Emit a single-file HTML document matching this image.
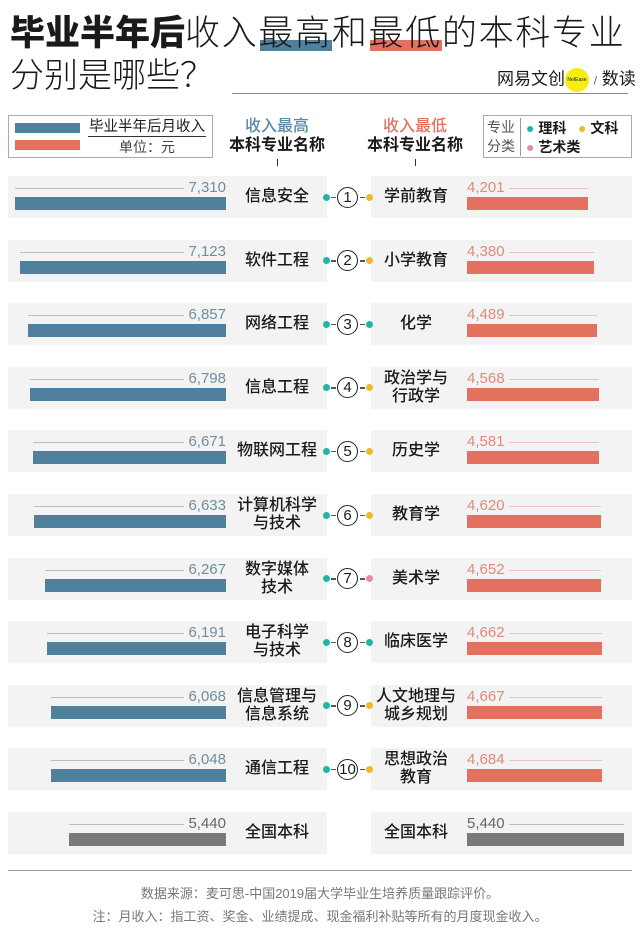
<!DOCTYPE html>
<html><head><meta charset="utf-8">
<style>
*{margin:0;padding:0;box-sizing:border-box}
body{width:640px;height:938px;background:#fff;position:relative;overflow:hidden;font-family:"Liberation Sans","Noto Sans CJK SC",sans-serif;color:#1a1a1a}
.abs{position:absolute}
.t1{left:10px;top:12px;white-space:nowrap;line-height:44px}
.t1 b{font-size:35px;font-weight:900}
.t1 span{font-size:35px;font-weight:300;letter-spacing:1.7px}
.hl{position:absolute;z-index:-1}
.row{position:absolute;height:42px;background:#f3f3f3}
.val{position:absolute;font-size:15px;font-weight:300;line-height:15px}
.lbl{position:absolute;font-size:16px;font-weight:500;line-height:18px;text-align:center;width:90px}
.dot{position:absolute;width:7px;height:7px;border-radius:50%}
.dash{position:absolute;width:5px;height:1.5px;background:#555}
.circ{position:absolute;width:21px;height:21px;border:1.3px solid #222;border-radius:50%;font-size:15px;line-height:19px;text-align:center;background:#fff}
.foot{position:absolute;left:0;width:640px;text-align:center;font-size:13px;color:#777}
</style></head><body>
<div class="abs t1"><b>毕业半年后</b><span>收入最高和最低的本科专业</span></div>
<div class="hl" style="left:260px;top:40px;width:72px;height:11px;background:#4f819c"></div>
<div class="hl" style="left:370px;top:40px;width:72px;height:11px;background:#e4715f"></div>
<div class="abs" style="left:10px;top:56px;font-size:34px;font-weight:300;line-height:40px">分别是哪些？</div>
<div class="abs" style="left:232px;top:93px;width:396px;height:1px;background:#888"></div>
<div class="abs" style="left:497px;top:68px;font-size:17px;line-height:20px;white-space:nowrap">网易文创<span style="display:inline-block;width:24px;height:24px;border-radius:50%;background:#f5ee10;font-size:5px;line-height:24px;text-align:center;vertical-align:middle">NetEase</span> <span style="font-size:12px;color:#666">/</span> 数读</div>

<div class="abs" style="left:8px;top:115px;width:205px;height:43px;border:1px solid #aaa"></div>
<div class="abs" style="left:15px;top:123px;width:65px;height:10px;background:#4f819c"></div>
<div class="abs" style="left:15px;top:140px;width:65px;height:10px;background:#e4715f"></div>
<div class="abs" style="left:88px;top:118px;width:118px;font-size:14.5px;line-height:18px;text-align:center;border-bottom:1px solid #333;white-space:nowrap">毕业半年后月收入</div>
<div class="abs" style="left:88px;top:139px;width:118px;font-size:14px;line-height:17px;text-align:center;color:#444">单位：元</div>

<div class="abs" style="left:217px;top:117px;width:120px;text-align:center;font-size:16px;line-height:19px;color:#5a8aa6;font-weight:500">收入最高</div>
<div class="abs" style="left:217px;top:136px;width:120px;text-align:center;font-size:16px;line-height:19px;font-weight:700">本科专业名称</div>
<div class="abs" style="left:277px;top:159px;width:1px;height:7px;background:#333"></div>
<div class="abs" style="left:355px;top:117px;width:120px;text-align:center;font-size:16px;line-height:19px;color:#e4715f;font-weight:500">收入最低</div>
<div class="abs" style="left:355px;top:136px;width:120px;text-align:center;font-size:16px;line-height:19px;font-weight:700">本科专业名称</div>
<div class="abs" style="left:415px;top:159px;width:1px;height:7px;background:#333"></div>

<div class="abs" style="left:483px;top:115px;width:149px;height:43px;border:1px solid #aaa">
 <div class="abs" style="left:3px;top:2px;font-size:14px;line-height:19px;color:#555;width:34px;white-space:nowrap;border-right:1px solid #999;padding-right:3px">专业<br>分类</div>
 <div class="abs" style="left:42px;top:3px;font-size:14px;line-height:18px;font-weight:600;white-space:nowrap"><span style="color:#1fb5ac">●</span> 理科 &nbsp; <span style="color:#f2b731">●</span> 文科</div>
 <div class="abs" style="left:42px;top:22px;font-size:14px;line-height:18px;font-weight:600;white-space:nowrap"><span style="color:#e98aa7">●</span> 艺术类</div>
</div>

<div id="chart"></div>

<div class="abs" style="left:8px;top:870px;width:624px;height:1px;background:#999"></div>
<div class="foot" style="top:883px">数据来源：麦可思-中国2019届大学毕业生培养质量跟踪评价。</div>
<div class="foot" style="top:906px">注：月收入：指工资、奖金、业绩提成、现金福利补贴等所有的月度现金收入。</div>

<script>
const highNames = ["信息安全","软件工程","网络工程","信息工程","物联网工程","计算机科学\n与技术","数字媒体\n技术","电子科学\n与技术","信息管理与\n信息系统","通信工程","全国本科"];
const highValues = [7310,7123,6857,6798,6671,6633,6267,6191,6068,6048,5440];
const lowNames = ["学前教育","小学教育","化学","政治学与\n行政学","历史学","教育学","美术学","临床医学","人文地理与\n城乡规划","思想政治\n教育","全国本科"];
const lowValues = [4201,4380,4489,4568,4581,4620,4652,4662,4667,4684,5440];
const lowCats = ["文","文","理","文","文","文","艺","理","文","文",""];

const SCALE = 0.0289, LEFT_END = 226, RIGHT_START = 467, TOP0 = 176, STEP = 63.6;
const catColor = {"理":"#1fb5ac","文":"#f2b731","艺":"#e98aa7"};
const fmt = v => v.toLocaleString("en-US");
const w = v => v * SCALE;
const root = document.getElementById("chart");
function mk(cls, css, html){const d=document.createElement("div");d.className=cls;d.style.cssText=css;if(html!==undefined)d.innerHTML=html;root.appendChild(d);return d;}

highValues.forEach((hv, i) => {
  const top = TOP0 + i * STEP;
  const avg = i === highValues.length - 1;
  const hc = avg ? "#7a7a7a" : "#4f819c", lc = avg ? "#7a7a7a" : "#e4715f";
  const lv = lowValues[i];
  let e;
  e = mk("row", `left:8px;top:${top}px;width:319px`);
  
  
  e = mk("row", `left:371px;top:${top}px;width:261px`);
  
  
  const lw = w(hv);
  e = mk("abs", `left:${LEFT_END - lw}px;top:${top+21}px;width:${lw}px;height:13px;background:${hc}`);
  
  
  e = mk("abs", `left:${LEFT_END - lw}px;top:${top+12}px;width:${lw-42}px;height:1px;background:#bdbdbd`);
  
  
  e = mk("val", `left:${LEFT_END-60}px;width:60px;text-align:right;top:${top+4}px;color:${avg?'#666':'#6f8ea0'}`, fmt(hv));
  
  
  const rw = w(lv);
  e = mk("abs", `left:${RIGHT_START}px;top:${top+21}px;width:${rw}px;height:13px;background:${lc}`);
  
  
  e = mk("abs", `left:${RIGHT_START+42}px;top:${top+12}px;width:${rw-42}px;height:1px;background:${avg?'#bdbdbd':'#e6c6bf'}`);
  
  
  e = mk("val", `left:${RIGHT_START}px;top:${top+4}px;color:${avg?'#666':'#e08a7c'}`, fmt(lv));
  
  
  const hn = highNames[i].split("\n"), ln = lowNames[i].split("\n");
  e = mk("lbl", `left:232px;top:${top + 21 - hn.length*9}px`, hn.join("<br>"));
  
  
  e = mk("lbl", `left:371px;top:${top + 21 - ln.length*9}px`, ln.join("<br>"));
  
  
  if (!avg) {
    const cy = top + 21;
    e = mk("dot", `left:323px;top:${cy-3.5}px;background:#1fb5ac`);
    
    
    e = mk("dash", `left:331px;top:${cy-0.5}px`);
    
    
    e = mk("dash", `left:360px;top:${cy-0.5}px`);
    
    
    e = mk("dot", `left:366px;top:${cy-3.5}px;background:${catColor[lowCats[i]]}`);
    
    
    e = mk("circ", `left:337px;top:${cy-10.5}px`, String(i+1));
    
    
  }
});
</script>
</body></html>
